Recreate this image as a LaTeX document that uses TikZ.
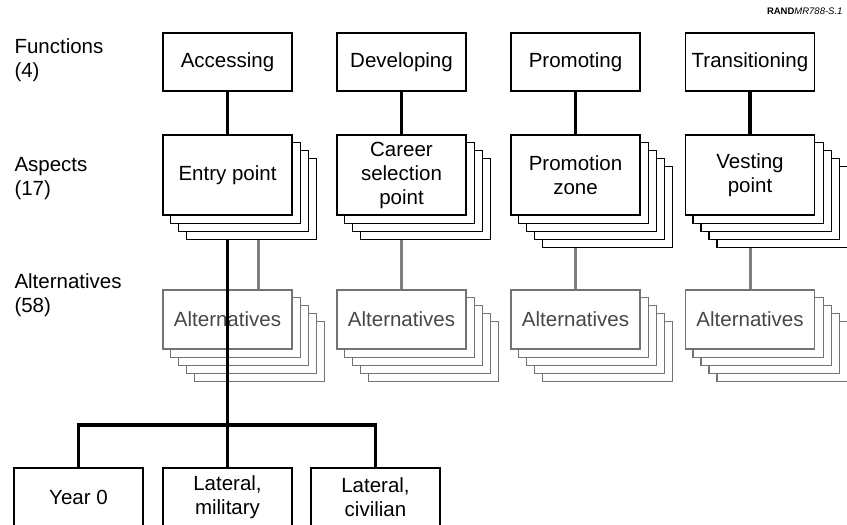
\documentclass[tikz,border=0pt]{standalone}
\usepackage{fontspec}
\setmainfont{Liberation Sans}
\usetikzlibrary{backgrounds}
\newcommand\stackcopies[3]{%
  \begin{pgfonlayer}{background}
  \foreach \i in {#2,...,1} {
    \draw[#3] ([shift={(8*\i,8*\i)}]#1.south west) rectangle ([shift={(8*\i,8*\i)}]#1.north east);
  }
  \end{pgfonlayer}}
\begin{document}
\begin{tikzpicture}[x=1bp,y=-1bp,
  every node/.style={font=\fontsize{20.5bp}{24bp}\selectfont},
  box/.style={draw, line width=1.1bp, fill=white, minimum width=129bp, align=center, inner sep=0pt},
  fbox/.style={box, minimum height=58bp},
  abox/.style={box, minimum height=80bp},
  altbox/.style={box, draw=black!55, text=black!72, minimum height=59bp},
  copyb/.style={draw, line width=1.1bp, fill=white},
  copyalt/.style={draw=black!55, line width=1.1bp, fill=white},
  conn/.style={line width=3.6bp, line cap=butt},
  gconn/.style={line width=3bp, draw=black!50},
  lbl/.style={anchor=west, align=left}]
\useasboundingbox (0,0) rectangle (847,525);

% left labels
\node[lbl] (lf) at (11,60) {Functions\\(4)};
\node[lbl] (la) at (11,179) {Aspects\\(17)};
\node[lbl] (lalt) at (11,295) {Alternatives\\(58)};
\node[anchor=east, font=\fontsize{9.5bp}{11bp}\selectfont] (rand) at (846,11) {\textbf{RAND}\textit{MR788-S.1}};

% functions
\node[fbox] (f1) at (227.5,62) {Accessing};
\node[fbox] (f2) at (401.5,62) {Developing};
\node[fbox] (f3) at (575.5,62) {Promoting};
\node[fbox] (f4) at (750,62) {Transitioning};

% aspects
\node[abox] (a1) at (227.5,175) {Entry point};
\node[abox] (a2) at (401.5,175) {Career\\selection\\point};
\node[abox] (a3) at (575.5,175) {Promotion\\zone};
\node[abox] (a4) at (750,175) {Vesting\\point};
\stackcopies{a1}{3}{copyb}
\stackcopies{a2}{3}{copyb}
\stackcopies{a3}{4}{copyb}
\stackcopies{a4}{4}{copyb}

% alternatives
\node[altbox] (alt1) at (227.5,319.5) {Alternatives};
\node[altbox] (alt2) at (401.5,319.5) {Alternatives};
\node[altbox] (alt3) at (575.5,319.5) {Alternatives};
\node[altbox] (alt4) at (750,319.5) {Alternatives};
\stackcopies{alt1}{4}{copyalt}
\stackcopies{alt2}{4}{copyalt}
\stackcopies{alt3}{4}{copyalt}
\stackcopies{alt4}{4}{copyalt}

% function to aspect connectors
\draw[conn] (f1.south) -- (a1.north);
\draw[conn] (f2.south) -- (a2.north);
\draw[conn] (f3.south) -- (a3.north);
\draw[conn] (f4.south) -- (a4.north);

% aspect to alternatives connectors
\coordinate (g1) at ([shift={(30.5,24)}]a1.south);
\coordinate (g2) at ([shift={(0,24)}]a2.south);
\coordinate (g3) at ([shift={(0,32)}]a3.south);
\coordinate (g4) at ([shift={(0,32)}]a4.south);
\draw[gconn] (g1) -- (g1 |- alt1.north);
\draw[gconn] (g2) -- (alt2.north);
\draw[gconn] (g3) -- (alt3.north);
\draw[gconn] (g4) -- (alt4.north);

% bottom boxes
\node[fbox] (b1) at (78.5,497) {Year 0};
\node[fbox] (b2) at (227.5,497) {Lateral,\\military};
\node[fbox] (b3) at (375.5,497) {Lateral,\\civilian};

% entry point tree
\coordinate (s1) at ([shift={(0,24)}]a1.south);
\coordinate (j) at (227.5,425);
\draw[conn] (s1) -- (j);
\draw[conn] (b1.north) |- (j) -| (b3.north);
\draw[conn] (j) -- (b2.north);
\end{tikzpicture}
\end{document}
